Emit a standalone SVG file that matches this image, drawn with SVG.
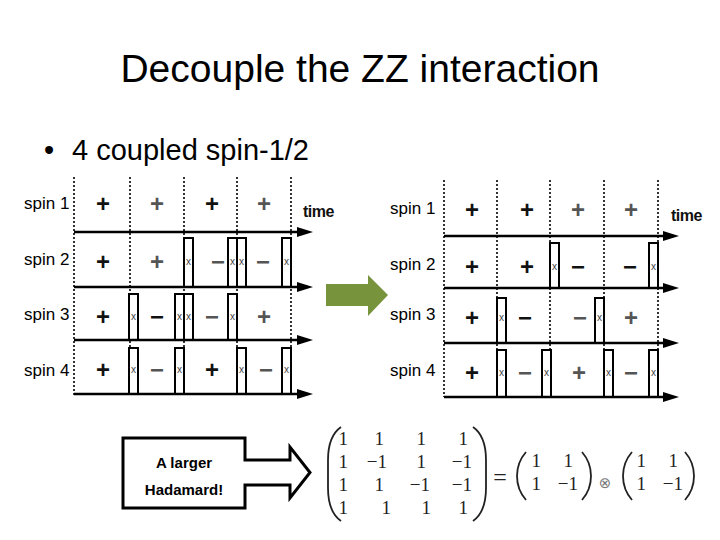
<svg xmlns="http://www.w3.org/2000/svg" width="720" height="540" viewBox="0 0 720 540">
<defs>
<style>
.title{font-family:"Liberation Sans",Arial,sans-serif;font-size:39px;fill:#000}
.bul{font-family:"Liberation Sans",Arial,sans-serif;font-size:29px;fill:#000}
.lbl{font-family:"Liberation Sans",Arial,sans-serif;font-size:17px;fill:#000}
.sym{font-family:"Liberation Sans",Arial,sans-serif;font-size:24px;fill:#111;text-anchor:middle;font-weight:bold}
.g{fill:#555}
.xx{font-family:"Liberation Sans",Arial,sans-serif;font-size:10px;fill:#444;text-anchor:middle}
.time{font-family:"Liberation Sans",Arial,sans-serif;font-size:16px;font-weight:bold;fill:#111;letter-spacing:-0.5px}
.dot{stroke:#000;stroke-width:1.6;stroke-dasharray:2 2;fill:none}
.ax{stroke:#000;stroke-width:2.5;fill:none}
.pulse{fill:#fff;stroke:#000;stroke-width:2}
.mt{font-family:"Liberation Serif","Times New Roman",serif;font-size:19px;fill:#222;text-anchor:end}
.par{fill:none;stroke:#222;stroke-width:1.8}
.call{font-family:"Liberation Sans",Arial,sans-serif;font-size:15px;font-weight:bold;fill:#000;text-anchor:middle}
</style>
<marker id="ah" markerWidth="16" markerHeight="10" refX="0" refY="5" orient="auto" markerUnits="userSpaceOnUse">
<path d="M0,0 L16,5 L0,10 Z" fill="#000"/>
</marker>
</defs>
<rect width="720" height="540" fill="#fff"/>

<g id="title"><text class="title" x="360" y="82" text-anchor="middle">Decouple the ZZ interaction</text></g>
<g id="bullet"><text class="bul" x="44" y="160">•</text><text class="bul" x="72" y="160">4 coupled spin-1/2</text></g>

<g id="left-sequence">
<line class="dot" x1="74" y1="177" x2="74" y2="395"/>
<line class="dot" x1="130" y1="177" x2="130" y2="395"/>
<line class="dot" x1="184" y1="177" x2="184" y2="395" stroke-dasharray="5 2"/>
<line class="dot" x1="237" y1="177" x2="237" y2="395"/>
<line class="dot" x1="291" y1="177" x2="291" y2="395"/>
<text class="lbl" x="24" y="209">spin 1</text>
<text class="lbl" x="24" y="265">spin 2</text>
<text class="lbl" x="24" y="320">spin 3</text>
<text class="lbl" x="24" y="376">spin 4</text>
<text class="time" x="303" y="217">time</text>
<!-- spin 1 -->
<text class="sym" x="103" y="212">+</text><text class="sym g" x="157" y="212">+</text><text class="sym" x="212" y="212">+</text><text class="sym g" x="264" y="212">+</text>
<!-- spin 2 -->
<text class="sym" x="103" y="270">+</text><text class="sym g" x="157" y="270">+</text>
<rect class="pulse" x="184" y="238" width="9" height="49"/><text class="xx" x="188.5" y="265">x</text>
<text class="sym g" x="218" y="270">−</text>
<rect class="pulse" x="228" y="238" width="9" height="49"/><text class="xx" x="232.5" y="265">x</text>
<rect class="pulse" x="237" y="238" width="9" height="49"/><text class="xx" x="241.5" y="265">x</text>
<text class="sym g" x="263" y="270">−</text>
<rect class="pulse" x="282" y="238" width="9" height="49"/><text class="xx" x="286.5" y="265">x</text>
<!-- spin 3 -->
<text class="sym" x="103" y="325">+</text>
<rect class="pulse" x="129" y="294" width="9" height="46"/><text class="xx" x="133.5" y="320">x</text>
<text class="sym" x="157" y="325">−</text>
<rect class="pulse" x="175" y="294" width="9" height="46"/><text class="xx" x="179.5" y="320">x</text>
<rect class="pulse" x="184" y="294" width="9" height="46"/><text class="xx" x="188.5" y="320">x</text>
<text class="sym g" x="212" y="325">−</text>
<rect class="pulse" x="228" y="294" width="9" height="46"/><text class="xx" x="232.5" y="320">x</text>
<text class="sym g" x="264" y="325">+</text>
<!-- spin 4 -->
<text class="sym" x="103" y="378">+</text>
<rect class="pulse" x="129" y="348" width="9" height="46"/><text class="xx" x="133.5" y="373">x</text>
<text class="sym g" x="157" y="378">−</text>
<rect class="pulse" x="175" y="348" width="9" height="46"/><text class="xx" x="179.5" y="373">x</text>
<text class="sym" x="212" y="378">+</text>
<rect class="pulse" x="237" y="348" width="9" height="46"/><text class="xx" x="241.5" y="373">x</text>
<text class="sym g" x="266" y="378">−</text>
<rect class="pulse" x="282" y="348" width="9" height="46"/><text class="xx" x="286.5" y="373">x</text>
</g>

<g id="right-sequence">
<line class="dot" x1="444" y1="180" x2="444" y2="397"/>
<line class="dot" x1="497" y1="180" x2="497" y2="397"/>
<line class="dot" x1="550" y1="180" x2="550" y2="397"/>
<line class="dot" x1="604" y1="180" x2="604" y2="397"/>
<line class="dot" x1="658" y1="180" x2="658" y2="397"/>
<text class="lbl" x="390" y="214">spin 1</text>
<text class="lbl" x="390" y="270">spin 2</text>
<text class="lbl" x="390" y="320">spin 3</text>
<text class="lbl" x="390" y="376">spin 4</text>
<text class="time" x="671" y="221">time</text>
<!-- spin 1 -->
<text class="sym" x="472" y="218">+</text><text class="sym" x="527" y="218">+</text><text class="sym g" x="578" y="218">+</text><text class="sym g" x="631" y="218">+</text>
<!-- spin 2 -->
<text class="sym" x="472" y="275">+</text><text class="sym" x="527" y="275">+</text>
<rect class="pulse" x="550" y="243" width="9" height="45"/><text class="xx" x="554.5" y="270">x</text>
<text class="sym" x="578" y="275">−</text>
<text class="sym" x="630" y="275">−</text>
<rect class="pulse" x="649" y="243" width="9" height="45"/><text class="xx" x="653.5" y="270">x</text>
<!-- spin 3 -->
<text class="sym" x="472" y="326">+</text>
<rect class="pulse" x="497" y="298" width="9" height="45"/><text class="xx" x="501.5" y="321">x</text>
<text class="sym" x="525" y="326">−</text>
<text class="sym g" x="580" y="326">−</text>
<rect class="pulse" x="595" y="298" width="9" height="45"/><text class="xx" x="599.5" y="321">x</text>
<text class="sym g" x="631" y="326">+</text>
<!-- spin 4 -->
<text class="sym" x="472" y="381">+</text>
<rect class="pulse" x="497" y="350" width="9" height="47"/><text class="xx" x="501.5" y="376">x</text>
<text class="sym g" x="525" y="381">−</text>
<rect class="pulse" x="542" y="350" width="9" height="47"/><text class="xx" x="546.5" y="376">x</text>
<text class="sym g" x="579" y="381">+</text>
<rect class="pulse" x="604" y="350" width="9" height="47"/><text class="xx" x="608.5" y="376">x</text>
<text class="sym g" x="631" y="381">−</text>
<rect class="pulse" x="649" y="350" width="9" height="47"/><text class="xx" x="653.5" y="376">x</text>
</g>

<g id="connectors">
<line class="ax" x1="74" y1="232" x2="297" y2="232" marker-end="url(#ah)" stroke="#333"/>
<line class="ax" x1="74" y1="287" x2="297" y2="287" marker-end="url(#ah)"/>
<line class="ax" x1="74" y1="340" x2="297" y2="340" marker-end="url(#ah)"/>
<line class="ax" x1="74" y1="394" x2="297" y2="394" marker-end="url(#ah)"/>
<line class="ax" x1="444" y1="236" x2="663" y2="236" marker-end="url(#ah)"/>
<line class="ax" x1="444" y1="288" x2="663" y2="288" marker-end="url(#ah)"/>
<line class="ax" x1="444" y1="343" x2="663" y2="343" marker-end="url(#ah)" stroke="#444"/>
<line class="ax" x1="444" y1="397" x2="663" y2="397" marker-end="url(#ah)"/>
</g>

<g id="green-arrow">
<path d="M326,284 H368 V275 L388,295 L368,316 V306 H326 Z" fill="#77933C"/>
</g>

<g id="hadamard-callout">
<path d="M123,438 H245 V460 H290 V447 L310,472.5 L290,498 V485 H245 V508 H123 Z" fill="#fff" stroke="#000" stroke-width="3" stroke-linejoin="miter"/>
<text class="call" x="184" y="468">A larger</text>
<text class="call" x="184" y="495">Hadamard!</text>
</g>

<g id="matrix-equation">
<path class="par" d="M341,427 C331,434 328,446 328,460 V488 C328,502 331,514 341,521"/>
<path class="par" d="M473,427 C483,434 486,446 486,460 V488 C486,502 483,514 473,521"/>
<text class="mt" x="348" y="445">1</text><text class="mt" x="384" y="445">1</text><text class="mt" x="426" y="445">1</text><text class="mt" x="468" y="445">1</text>
<text class="mt" x="348" y="468">1</text><text class="mt" x="387" y="468">−1</text><text class="mt" x="426" y="468">1</text><text class="mt" x="472" y="468">−1</text>
<text class="mt" x="348" y="491">1</text><text class="mt" x="384" y="491">1</text><text class="mt" x="430" y="491">−1</text><text class="mt" x="472" y="491">−1</text>
<text class="mt" x="348" y="514">1</text><text class="mt" x="391" y="514">1</text><text class="mt" x="431" y="514">1</text><text class="mt" x="468" y="514">1</text>
<text x="500" y="485" font-family="Liberation Serif,serif" font-size="24" text-anchor="middle" fill="#222">=</text>
<path class="par" d="M526,452 C519,460 517,468 517,476 C517,484 519,492 526,500"/>
<path class="par" d="M582,452 C589,460 591,468 591,476 C591,484 589,492 582,500"/>
<text class="mt" x="541" y="467">1</text><text class="mt" x="573" y="467">1</text>
<text class="mt" x="541" y="490">1</text><text class="mt" x="578" y="490">−1</text>
<text x="605" y="488" font-family="DejaVu Sans,sans-serif" font-size="15" text-anchor="middle" fill="#777">⊗</text>
<path class="par" d="M632,452 C625,460 623,468 623,476 C623,484 625,492 632,500"/>
<path class="par" d="M685,452 C692,460 694,468 694,476 C694,484 692,492 685,500"/>
<text class="mt" x="646" y="467">1</text><text class="mt" x="678" y="467">1</text>
<text class="mt" x="646" y="490">1</text><text class="mt" x="683" y="490">−1</text>
</g>
</svg>
